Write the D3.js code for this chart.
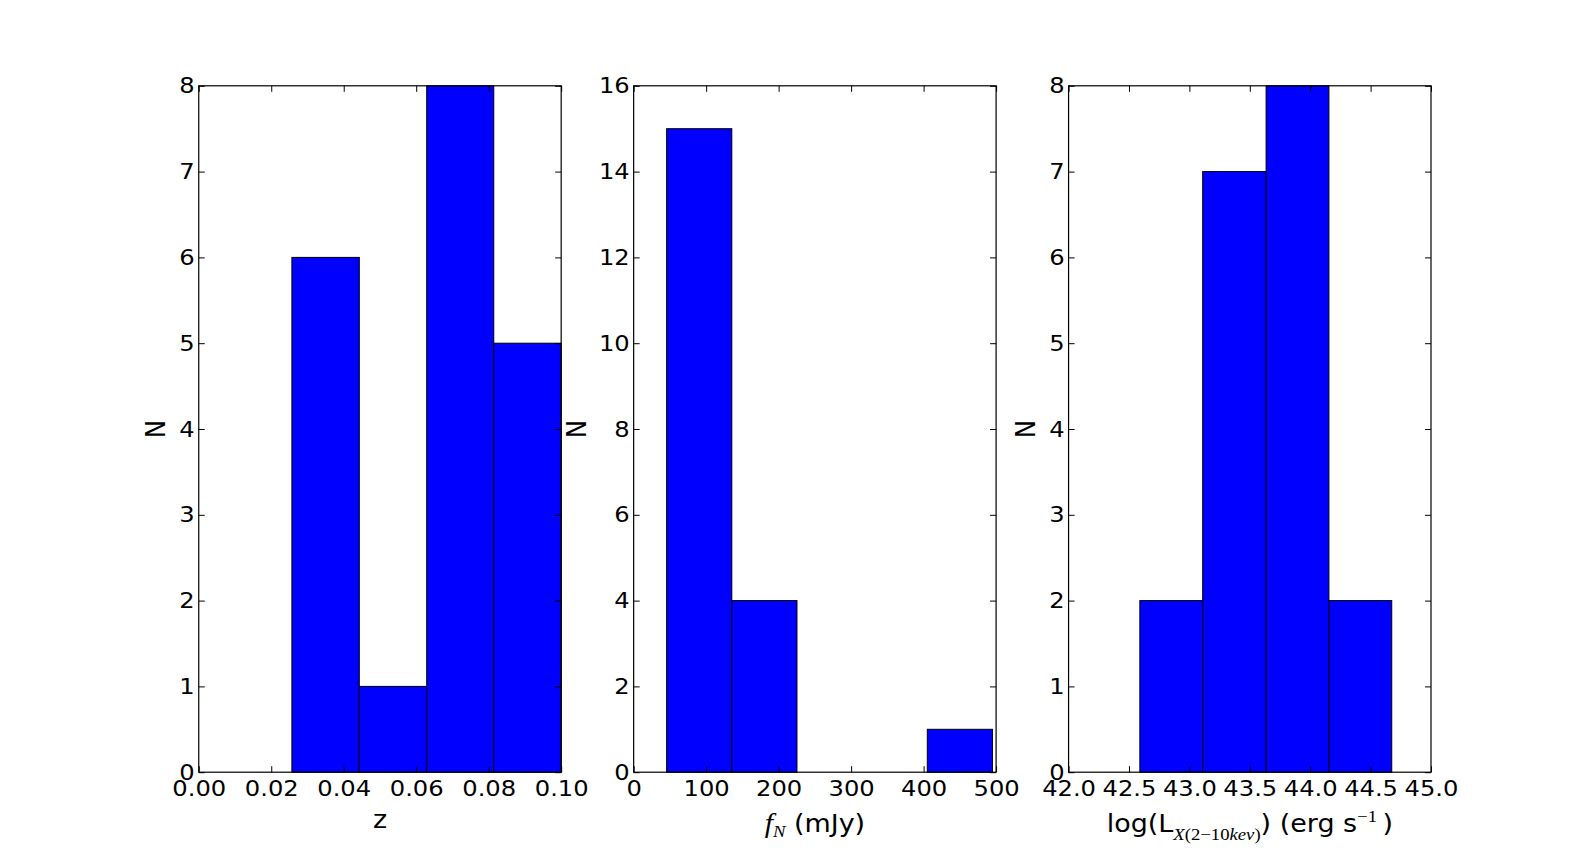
<!DOCTYPE html>
<html>
<head>
<meta charset="utf-8">
<script src="https://cdn.jsdelivr.net/npm/d3@7"></script>
<style>
  html, body { margin: 0; padding: 0; background: #fff; }
  svg { display: block; }
</style>
</head>
<body>
<svg id="chart" width="1590" height="858"></svg>
<script>
// ---------- data ----------
const zEdges  = [0.0257, 0.0443, 0.0629, 0.0814, 0.1000];
const zCounts = [6, 1, 8, 5];
const zTicks  = [0.00, 0.02, 0.04, 0.06, 0.08, 0.10];
const zCountTicks = [0, 1, 2, 3, 4, 5, 6, 7, 8];

const fEdges  = [45.5, 135.4, 225.3, 315.2, 405.1, 495.0];
const fCounts = [15, 4, 0, 0, 1];
const fTicks  = [0, 100, 200, 300, 400, 500];
const fCountTicks = [0, 2, 4, 6, 8, 10, 12, 14, 16];

const lEdges  = [42.59, 43.11, 43.635, 44.155, 44.675];
const lCounts = [2, 7, 8, 2];
const lTicks  = [42.0, 42.5, 43.0, 43.5, 44.0, 44.5, 45.0];
const lCountTicks = [0, 1, 2, 3, 4, 5, 6, 7, 8];

const yLabelText = "N";

// ---------- layout ----------
const W = 1590, H = 858;
const mLeft = 0.125 * W, mRight = 0.9 * W, mTop = 0.1 * H, mBottom = 0.9 * H;
const wspace = 0.2;
const pw = (mRight - mLeft) / (3 + 2 * wspace);
const gap = pw * wspace;
const SX = 1.1;            // horizontal stretch of the glyphs in the reference
const tickFont = 22, labelFont = 24.5, subFont = 17;
const sans = "'DejaVu Sans', sans-serif";
const serif = "'Liberation Serif', 'DejaVu Serif', serif";

const panels = [
  { edges: zEdges, counts: zCounts, xDom: [0, 0.1], xTicks: zTicks, xFmt: d3.format(".2f"),
    yDom: [0, 8], yTicks: zCountTicks, label: "z", yLabOff: 43 },
  { edges: fEdges, counts: fCounts, xDom: [0, 500], xTicks: fTicks, xFmt: d3.format("d"),
    yDom: [0, 16], yTicks: fCountTicks, label: "fN", yLabOff: 57.5 },
  { edges: lEdges, counts: lCounts, xDom: [42, 45], xTicks: lTicks, xFmt: d3.format(".1f"),
    yDom: [0, 8], yTicks: lCountTicks, label: "logL", yLabOff: 43 }
];

const svg = d3.select("#chart");

panels.forEach((p, i) => {
  const x0 = mLeft + i * (pw + gap);
  const x = d3.scaleLinear().domain(p.xDom).range([x0, x0 + pw]);
  const y = d3.scaleLinear().domain(p.yDom).range([mBottom, mTop]);
  const g = svg.append("g");

  // bars
  const bins = p.counts.map((c, k) => ({ x0: p.edges[k], x1: p.edges[k + 1], c }));
  g.selectAll("rect.bar").data(bins.filter(b => b.c > 0)).join("rect")
    .attr("class", "bar")
    .attr("x", d => x(d.x0))
    .attr("width", d => x(d.x1) - x(d.x0))
    .attr("y", d => y(d.c))
    .attr("height", d => y(0) - y(d.c))
    .attr("fill", "#0000ff")
    .attr("stroke", "#000")
    .attr("stroke-width", 1);

  // frame
  g.append("rect")
    .attr("x", x0).attr("y", mTop).attr("width", pw).attr("height", mBottom - mTop)
    .attr("fill", "none").attr("stroke", "#000").attr("stroke-width", 1.2);

  // axes (ticks inward on all sides)
  const ax = (gen, tr) => {
    const a = g.append("g").attr("transform", tr).call(gen);
    a.select(".domain").remove();
    a.selectAll("line").attr("stroke", "#000").attr("stroke-width", 1);
    return a;
  };
  const bAx = ax(d3.axisBottom(x).tickValues(p.xTicks).tickFormat(p.xFmt)
      .tickSizeInner(-6).tickSizeOuter(0).tickPadding(8), `translate(0,${mBottom})`);
  ax(d3.axisTop(x).tickValues(p.xTicks).tickFormat("")
      .tickSizeInner(-6).tickSizeOuter(0), `translate(0,${mTop})`);
  const lAx = ax(d3.axisLeft(y).tickValues(p.yTicks).tickFormat(d3.format("d"))
      .tickSizeInner(-6).tickSizeOuter(0).tickPadding(4), `translate(${x0},0)`);
  ax(d3.axisRight(y).tickValues(p.yTicks).tickFormat("")
      .tickSizeInner(-6).tickSizeOuter(0), `translate(${x0 + pw},0)`);

  [bAx, lAx].forEach(a => a.selectAll("text")
    .attr("fill", "#000")
    .style("font-family", sans)
    .style("font-size", tickFont + "px"));
  bAx.selectAll("text").attr("transform", `scale(${SX},1)`);
  lAx.selectAll("text").attr("x", -4 / SX).attr("transform", `scale(${SX},1)`);

  // y label
  svg.append("text")
    .attr("transform", `translate(${x0 - p.yLabOff},${(mTop + mBottom) / 2}) scale(${SX},1) rotate(-90)`)
    .attr("text-anchor", "middle").attr("dy", "0.36em")
    .style("font-family", sans).style("font-size", labelFont + "px")
    .text(yLabelText);

  // x label
  const cx = x0 + pw / 2;
  if (p.label === "z") {
    svg.append("text")
      .attr("transform", `translate(${cx},828) scale(${SX},1)`)
      .attr("text-anchor", "middle")
      .style("font-family", sans).style("font-size", labelFont + "px")
      .text("z");
  } else if (p.label === "fN") {
    const t = svg.append("text")
      .attr("transform", `translate(${cx},832) scale(${SX},1)`)
      .attr("text-anchor", "middle")
      .style("font-family", sans).style("font-size", labelFont + "px");
    t.append("tspan").style("font-family", serif).style("font-style", "italic")
      .style("font-size", "27px").text("f");
    t.append("tspan").attr("dy", 5).style("font-family", serif).style("font-style", "italic")
      .style("font-size", subFont + "px").text("N");
    t.append("tspan").attr("dy", -5).text("\u00a0(mJy)");
  } else {
    const t = svg.append("text")
      .attr("transform", `translate(${cx},832) scale(${SX},1)`)
      .attr("text-anchor", "middle")
      .style("font-family", sans).style("font-size", labelFont + "px");
    t.append("tspan").text("log(L");
    t.append("tspan").attr("dy", 8).style("font-family", serif).style("font-style", "italic")
      .style("font-size", subFont + "px").text("X");
    t.append("tspan").style("font-family", serif).style("font-size", subFont + "px").text("(2\u221210");
    t.append("tspan").style("font-family", serif).style("font-style", "italic")
      .style("font-size", subFont + "px").text("kev");
    t.append("tspan").style("font-family", serif).style("font-size", subFont + "px").text(")");
    t.append("tspan").attr("dy", -8).text(")\u00a0(erg\u00a0s");
    t.append("tspan").attr("dy", -10).style("font-family", serif)
      .style("font-size", subFont + "px").text("\u22121");
    t.append("tspan").attr("dy", 10).text("\u2009)");
  }
});
</script>
</body>
</html>
